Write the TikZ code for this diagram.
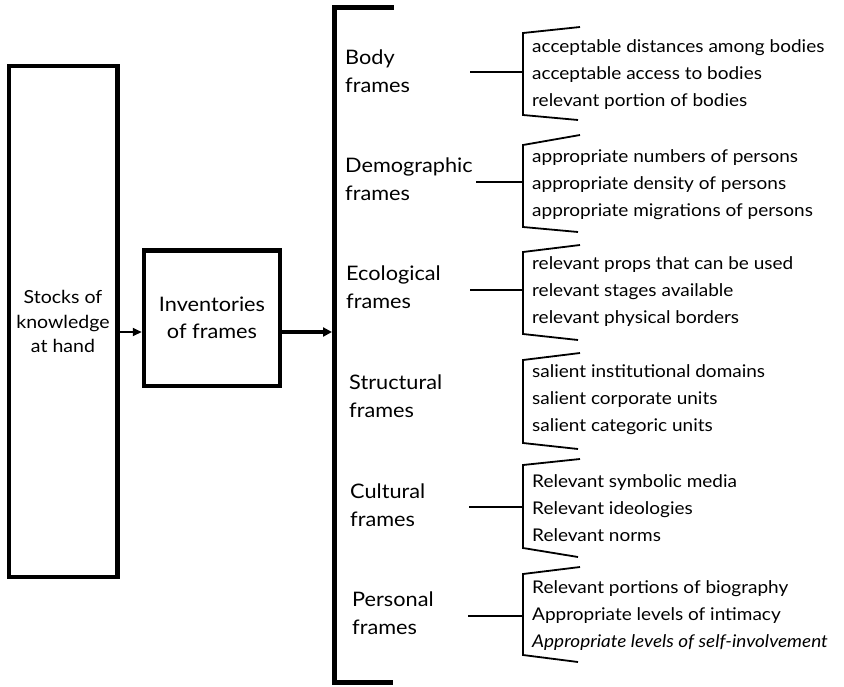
\documentclass[tikz,border=0pt]{standalone}
\usepackage{fontspec}
\setmainfont{Lato}[FakeStretch=1.085]
\usetikzlibrary{arrows.meta}
\begin{document}
\begin{tikzpicture}[x=1pt,y=-1pt,
  thickbox/.style={draw, line width=4.5pt, inner sep=0pt},
  catlabel/.style={anchor=west, align=left, inner sep=0pt,
    font=\fontsize{20}{28}\selectfont},
  itemlist/.style={anchor=west, align=left, inner sep=0pt,
    font=\fontsize{17.5}{27}\selectfont},
  thin/.style={line width=1.8pt},
  bigbracket/.style={line width=5pt, line cap=rect}
]
\useasboundingbox (0,0) rectangle (844,686);

% stock and inventory boxes
\node[thickbox, minimum width=108.5pt, minimum height=511pt,
  font=\fontsize{18}{24.5}\selectfont, align=center] (stocks) at (63,321.5)
  {Stocks of\\knowledge\\at hand};
\node[thickbox, minimum width=136pt, minimum height=135.5pt,
  font=\fontsize{20}{27}\selectfont, align=center] (inv) at (212,318)
  {Inventories\\of frames};

% the large bracket gathering all frame types
\coordinate (btop) at (391,7);
\coordinate (bbot) at (390,682);
\coordinate (bin) at (332,332);
\draw[bigbracket] (btop) -- (334.5,7) -- (334.5,682) -- (bbot);

% arrows
\draw[line width=2pt, -{Triangle[length=9pt,width=8pt]}]
  (stocks.east |- bin) -- (inv.west |- bin);
\draw[line width=4pt, -{Triangle[length=9pt,width=9pt]}]
  (inv.east |- bin) -- (bin);

% frame groups: label, bracket and item list
% args: name / label / label x / label y / items / item y / top y / top end y / bottom y / bottom end y
\foreach \n/\lab/\lx/\ly/\items/\iy/\ta/\tb/\ba/\bb in {
  body/{Body\\frames}/345/71/{acceptable distances among bodies\\acceptable access to bodies\\relevant portion of bodies}/75/33/27/115/120,
  demo/{Demographic\\frames}/345/179/{appropriate numbers of persons\\appropriate density of persons\\appropriate migrations of persons}/185/145/135/227/232,
  eco/{Ecological\\frames}/346/287.5/{relevant props that can be used\\relevant stages available\\relevant physical borders}/292/252/245/334/340,
  struct/{Structural\\frames}/349/396/{salient institutional domains\\salient corporate units\\salient categoric units}/400/360/353/443/449,
  cult/{Cultural\\frames}/350/505.5/{Relevant symbolic media\\Relevant ideologies\\Relevant norms}/508/465/459/548/557,
  pers/{Personal\\frames}/352/613.5/{Relevant portions of biography\\Appropriate levels of intimacy\\\textit{Appropriate levels of self-involvement}}/616/574/567/655/662%
}{
  \node[catlabel] (\n-label) at (\lx,\ly) {\lab};
  \node[itemlist] (\n-items) at (532,\iy) {\items};
  \coordinate (\n-top) at (580,\tb);
  \coordinate (\n-bot) at (578,\bb);
  \draw[thin] (\n-top) -- (523,\ta) -- (523,\ba) -- (\n-bot);
}

% connectors from frame labels to their brackets
\foreach \n/\sx/\cy in {body/470/72, demo/476/182, eco/470/290, cult/469/507, pers/468/616}{
  \coordinate (\n-from) at (\sx,\cy);
  \draw[thin] (\n-from) -- (523,\cy);
}
\end{tikzpicture}
\end{document}
